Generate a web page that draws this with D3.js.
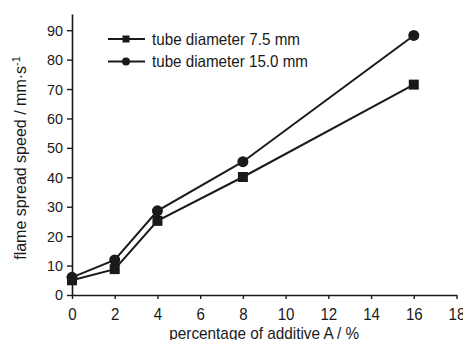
<!DOCTYPE html>
<html>
<head>
<meta charset="utf-8">
<script src="https://cdn.jsdelivr.net/npm/d3@7"></script>
<style>
  body { margin: 0; background: #fff; }
  svg text { font-family: "Liberation Sans", Arial, sans-serif; fill: #1a1a1a; }
</style>
</head>
<body>
<div id="wrapper"></div>
<script>
// data
const additive = [0, 2, 4, 8, 16]
const speed75 = [5.0, 8.8, 25.2, 40.1, 71.5]
const speed150 = [6.0, 11.9, 28.6, 45.3, 88.2]
const xTicks = [0, 2, 4, 6, 8, 10, 12, 14, 16, 18]
const yTicks = [0, 10, 20, 30, 40, 50, 60, 70, 80, 90]
const seriesNames = ["tube diameter 7.5 mm", "tube diameter 15.0 mm"]

function drawChart(){
    let dimensions = {
        width: 463,
        height: 340,
        margin: { top: 14, right: 6, bottom: 45, left: 72 },
    }
    dimensions.boundedWidth = dimensions.width - dimensions.margin.left - dimensions.margin.right
    dimensions.boundedHeight = dimensions.height - dimensions.margin.top - dimensions.margin.bottom

    const ink = "#1a1a1a"

    const wrapper = d3.select("#wrapper")
        .append("svg")
        .attr("width", dimensions.width)
        .attr("height", dimensions.height)

    const bounds = wrapper.append("g")
        .attr("transform", `translate(${dimensions.margin.left},${dimensions.margin.top})`)

    // scales
    const xScale = d3.scaleLinear()
        .domain([0, 18])
        .range([0, 384.5])
    const yScale = d3.scaleLinear()
        .domain([0, 95.5])
        .range([dimensions.boundedHeight, 0])

    // axes
    const xAxis = bounds.append("g")
        .attr("transform", `translate(0,${dimensions.boundedHeight})`)
        .call(d3.axisBottom(xScale).tickValues(xTicks).tickSize(4).tickSizeOuter(0))
    const yAxis = bounds.append("g")
        .call(d3.axisLeft(yScale).tickValues(yTicks).tickSize(5).tickSizeOuter(0))

    ;[xAxis, yAxis].forEach(ax => {
        ax.select(".domain").attr("stroke", ink).attr("stroke-width", 1.6)
        ax.selectAll(".tick line").attr("stroke", ink).attr("stroke-width", 1.4)
        ax.selectAll(".tick text")
            .attr("fill", ink)
            .style("font-family", "Liberation Sans, Arial, sans-serif")
            .attr("lengthAdjust", "spacingAndGlyphs")
    })
    xAxis.selectAll(".tick text")
        .style("font-size", "16.5px")
        .attr("textLength", d => String(d).length * 8.4)
        .attr("dy", "0.71em").attr("y", 13)
    yAxis.selectAll(".tick text")
        .style("font-size", "15.5px")
        .attr("textLength", d => String(d).length * 8)
        .attr("x", -9)

    // lines and markers
    const lineGen = d3.line()
        .x(d => xScale(d[0]))
        .y(d => yScale(d[1]))

    const series = [
        { name: seriesNames[0], values: d3.zip(additive, speed75), marker: "square" },
        { name: seriesNames[1], values: d3.zip(additive, speed150), marker: "circle" },
    ]

    series.forEach(s => {
        bounds.append("path")
            .datum(s.values)
            .attr("d", lineGen)
            .attr("fill", "none")
            .attr("stroke", ink)
            .attr("stroke-width", 2)
    })

    series.forEach(s => {
        const g = bounds.append("g")
        if (s.marker === "square") {
            g.selectAll("rect").data(s.values).enter().append("rect")
                .attr("x", d => xScale(d[0]) - 5)
                .attr("y", d => yScale(d[1]) - 5)
                .attr("width", 10)
                .attr("height", 10)
                .attr("fill", ink)
        } else {
            g.selectAll("circle").data(s.values).enter().append("circle")
                .attr("cx", d => xScale(d[0]))
                .attr("cy", d => yScale(d[1]))
                .attr("r", 5.5)
                .attr("fill", ink)
        }
    })

    // legend
    const legend = wrapper.append("g")
    series.forEach((s, i) => {
        const y = 39 + i * 22.5
        legend.append("line")
            .attr("x1", 108).attr("x2", 145)
            .attr("y1", y).attr("y2", y)
            .attr("stroke", ink).attr("stroke-width", 2)
        if (s.marker === "square") {
            legend.append("rect")
                .attr("x", 122.5).attr("y", y - 3.5)
                .attr("width", 7).attr("height", 7)
                .attr("fill", ink)
        } else {
            legend.append("circle")
                .attr("cx", 126).attr("cy", y).attr("r", 4)
                .attr("fill", ink)
        }
        legend.append("text")
            .attr("x", 152).attr("y", y)
            .attr("dy", "0.35em")
            .style("font-size", "16.5px")
            .attr("textLength", i === 0 ? 148 : 156)
            .attr("lengthAdjust", "spacingAndGlyphs")
            .text(s.name)
    })

    // axis labels
    wrapper.append("text")
        .attr("x", dimensions.margin.left + xScale(9))
        .attr("y", 339)
        .attr("text-anchor", "middle")
        .style("font-size", "17px")
        .attr("textLength", 190)
        .attr("lengthAdjust", "spacingAndGlyphs")
        .text("percentage of additive A / %")

    const yLabel = wrapper.append("text")
        .attr("transform", `translate(26,158) rotate(-90)`)
        .attr("text-anchor", "middle")
        .style("font-size", "16px")
    yLabel.append("tspan").text("flame spread speed / mm·s")
    yLabel.append("tspan").attr("dy", -6).style("font-size", "11px").text("-1")
}

drawChart()
</script>
</body>
</html>
